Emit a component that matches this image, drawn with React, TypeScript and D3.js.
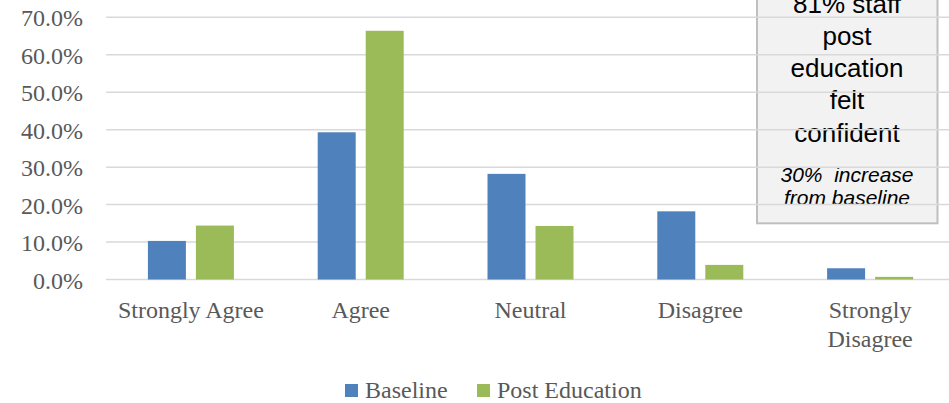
import React from "react";
import * as d3 from "d3";

const categories = ["Strongly Agree", "Agree", "Neutral", "Disagree", "Strongly Disagree"];
const series = ["Baseline", "Post Education"];
const baselineValues = [0.103, 0.393, 0.282, 0.182, 0.03];
const postValues = [0.144, 0.664, 0.143, 0.039, 0.007];
const yTicks = [0, 0.1, 0.2, 0.3, 0.4, 0.5, 0.6, 0.7];
const colors = ["#4f81bd", "#9bbb59"];
const boxLines = ["81% staff", "post", "education", "felt", "confident"];
const boxItalic = ["30%  increase", "from baseline"];

const W = 949;
const H = 403;

export default function App() {
  const x0 = d3.scaleBand<string>().domain(categories).range([106, 955]).padding(0);
  const bw = x0.bandwidth();
  const x1 = d3
    .scaleBand<string>()
    .domain(series)
    .range([bw / 2 - 43, bw / 2 + 43])
    .paddingInner(0.2083)
    .paddingOuter(0);
  const y = d3.scaleLinear().domain([0, 0.7]).range([279.5, 17.3]);
  const fmt = d3.format(".1%");
  const data = [baselineValues, postValues];
  const serif = "'Liberation Serif', 'Times New Roman', serif";
  const sans = "'Liberation Sans', Arial, sans-serif";
  const boxCx = 847;

  return (
    <svg
      width={W}
      height={H}
      style={{ position: "absolute", left: 0, top: 0, background: "#fff" }}
    >
      <defs>
        <clipPath id="boxclip">
          <rect x={757} y={-20} width={180} height={224.5} />
        </clipPath>
      </defs>
      {/* text box */}
      <rect x={757} y={-10} width={180.5} height={233.3} fill="#f2f2f2" stroke="#bfbfbf" strokeWidth={2} />
      <g clipPath="url(#boxclip)">
        {boxLines.map((t, i) => (
          <text key={t} x={boxCx} y={12.8 + i * 32.2} textAnchor="middle" fontFamily={sans} fontSize={26} fill="#000">
            {t}
          </text>
        ))}
        {boxItalic.map((t, i) => (
          <text
            key={t}
            x={boxCx}
            y={181.7 + i * 23.3}
            textAnchor="middle"
            fontFamily={sans}
            fontSize={21}
            fontStyle="italic"
            fill="#000"
            style={{ whiteSpace: "pre" }}
          >
            {t}
          </text>
        ))}
      </g>
      {/* gridlines */}
      {yTicks.map((t) => (
        <line key={t} x1={106} x2={W} y1={y(t)} y2={y(t)} stroke="#d9d9d9" strokeWidth={1.5} />
      ))}
      {/* y tick labels */}
      {yTicks.map((t) => (
        <text key={"l" + t} x={83} y={y(t) + 9} textAnchor="end" fontFamily={serif} fontSize={24} fill="#595959">
          {fmt(t)}
        </text>
      ))}
      {/* bars */}
      {categories.map((c, ci) => (
        <g key={c} transform={`translate(${x0(c)},0)`}>
          {series.map((s, si) => (
            <rect
              key={s}
              x={x1(s)}
              y={y(data[si][ci])}
              width={x1.bandwidth()}
              height={y(0) - y(data[si][ci])}
              fill={colors[si]}
            />
          ))}
        </g>
      ))}
      {/* category labels */}
      {categories.map((c) => {
        const cx = (x0(c) as number) + bw / 2;
        const words = c === "Strongly Disagree" ? ["Strongly", "Disagree"] : [c];
        return (
          <text key={"c" + c} x={cx} y={318} textAnchor="middle" fontFamily={serif} fontSize={24} fill="#595959">
            {words.map((w, i) => (
              <tspan key={w} x={cx} dy={i === 0 ? 0 : 29}>
                {w}
              </tspan>
            ))}
          </text>
        );
      })}
      {/* legend */}
      {series.map((s, i) => {
        const lx = [345, 477][i];
        return (
          <g key={"lg" + s}>
            <rect x={lx} y={384} width={13} height={13} fill={colors[i]} />
            <text x={lx + 20} y={398} fontFamily={serif} fontSize={24} fill="#595959">
              {s}
            </text>
          </g>
        );
      })}
    </svg>
  );
}
